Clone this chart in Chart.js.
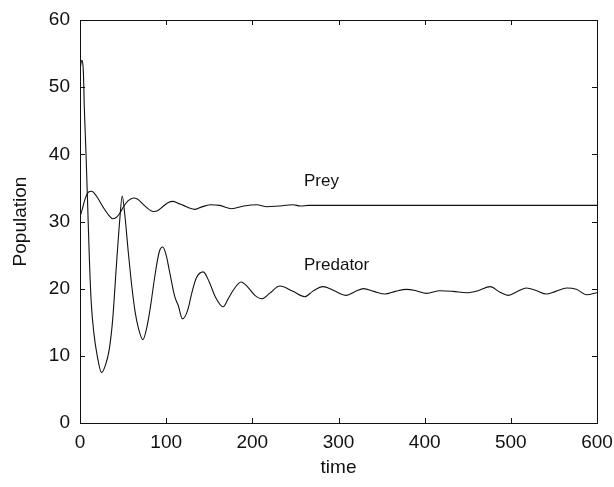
<!DOCTYPE html>
<html>
<head>
<meta charset="utf-8">
<script src="https://cdn.jsdelivr.net/npm/chart.js@4.4.1/dist/chart.umd.min.js"></script>
<style>
  html, body { margin: 0; padding: 0; background: #fff; }
  #wrap { width: 614px; height: 487px; }
</style>
</head>
<body>
<div id="wrap"><canvas id="chart"></canvas></div>
<script>
// Predator-prey simulation, values
const predTime = [0, 2, 4, 5, 7, 9, 11, 13, 16, 20, 25, 30, 34, 38, 42, 46, 49, 52, 56, 60,
    64, 68, 73, 78, 82, 87, 92, 96, 100, 104, 110, 114, 119, 125, 130, 135, 143, 150, 157, 166,
    172, 178, 187, 195, 203, 211, 220, 232, 247, 261, 270, 282, 295, 309, 320, 329, 341, 354, 366, 379,
    390, 402, 418, 433, 449, 462, 476, 487, 497, 508, 518, 530, 541, 552, 565, 576, 588, 600];
const predator = [52.5, 54, 52, 47, 40, 32, 24, 18, 13.5, 10, 7.5, 8.8, 11, 15.5, 23, 30, 33.8, 31, 25.5, 20.5,
    16.5, 14, 12.4, 14.5, 17.5, 22, 25.5, 26.2, 25, 22.5, 18.8, 17.5, 15.5, 16.8, 19.5, 21.6, 22.5, 21, 18.8, 17.3,
    18.5, 19.8, 21, 20.2, 19, 18.5, 19.3, 20.4, 19.6, 18.8, 19.6, 20.3, 19.7, 19, 19.6, 20, 19.6, 19.2, 19.6, 19.9,
    19.7, 19.3, 19.7, 19.6, 19.4, 19.7, 20.3, 19.5, 19.0, 19.6, 20.1, 19.7, 19.2, 19.6, 20.1, 19.9, 19.1, 19.4];

const preyTime = [0, 3, 6, 10, 13, 16, 20, 27, 33, 38, 42, 46, 51, 56, 62, 67, 73, 80, 85, 90,
    96, 102, 108, 114, 120, 127, 133, 140, 151, 162, 176, 190, 205, 217, 230, 247, 256, 265, 280, 600];
const prey = [30.7, 32, 33.4, 34.4, 34.5, 34.3, 33.6, 32.1, 31, 30.4, 30.6, 31.2, 32.3, 33.1, 33.5, 33.3, 32.6, 31.8, 31.5, 31.6,
    32.2, 32.8, 33.0, 32.7, 32.4, 32.0, 31.8, 32.1, 32.5, 32.4, 31.9, 32.3, 32.5, 32.2, 32.3, 32.5, 32.3, 32.4, 32.4, 32.4];

const xTicks = [0, 100, 200, 300, 400, 500, 600];
const yTicks = [0, 10, 20, 30, 40, 50, 60];

// curve labels, in data coordinates
const curveLabels = [
    { text: 'Prey', x: 260, y: 36 },
    { text: 'Predator', x: 260, y: 23.5 },
];

const INK = '#111';
const FONT = "'Liberation Sans', Arial, sans-serif";

Chart.defaults.font.family = FONT;
Chart.defaults.color = INK;

function toPoints(xs, ys) {
    return xs.map((x, i) => ({ x, y: ys[i] }));
}

// frame with inward tick marks on all four sides, plus curve labels
const framePlugin = {
    id: 'frame',
    afterDraw(chart) {
        const { ctx, chartArea: a, scales } = chart;
        const len = 5;
        ctx.save();
        ctx.strokeStyle = INK;
        ctx.lineWidth = 1;
        ctx.strokeRect(Math.round(a.left) + 0.5, Math.round(a.top) + 0.5,
            Math.round(a.right - a.left), Math.round(a.bottom - a.top));
        ctx.beginPath();
        xTicks.forEach(v => {
            const px = Math.round(scales.x.getPixelForValue(v)) + 0.5;
            ctx.moveTo(px, a.bottom); ctx.lineTo(px, a.bottom - len);
            ctx.moveTo(px, a.top); ctx.lineTo(px, a.top + len);
        });
        yTicks.forEach(v => {
            const py = Math.round(scales.y.getPixelForValue(v)) + 0.5;
            ctx.moveTo(a.left, py); ctx.lineTo(a.left + len, py);
            ctx.moveTo(a.right, py); ctx.lineTo(a.right - len, py);
        });
        ctx.stroke();

        ctx.fillStyle = INK;
        ctx.font = '17px ' + FONT;
        ctx.textAlign = 'left';
        ctx.textBaseline = 'middle';
        curveLabels.forEach(l => {
            ctx.fillText(l.text, scales.x.getPixelForValue(l.x), scales.y.getPixelForValue(l.y));
        });
        ctx.restore();
    },
};

const lineStyle = {
    borderColor: INK,
    borderWidth: 1.1,
    pointRadius: 0,
    fill: false,
    cubicInterpolationMode: 'monotone',
};

new Chart(document.getElementById('chart'), {
    type: 'line',
    data: {
        datasets: [
            { label: 'Prey', data: toPoints(preyTime, prey), ...lineStyle },
            { label: 'Predator', data: toPoints(predTime, predator), ...lineStyle },
        ],
    },
    options: {
        responsive: true,
        maintainAspectRatio: false,
        animation: false,
        layout: { padding: { top: 20, right: 17, left: 0, bottom: 0 } },
        plugins: {
            legend: { display: false },
            tooltip: { enabled: false },
        },
        scales: {
            x: {
                type: 'linear',
                min: 0,
                max: 600,
                afterBuildTicks: s => { s.ticks = xTicks.map(v => ({ value: v })); },
                grid: { display: false, drawTicks: false },
                border: { display: false },
                ticks: { padding: 8, font: { size: 19 }, color: INK, maxRotation: 0 },
                title: { display: true, text: 'time', font: { size: 19 }, color: INK, padding: { top: 4, bottom: 8 } },
                afterFit: s => { s.height = 64; s.paddingRight = 0; s.paddingLeft = 0; },
            },
            y: {
                min: 0,
                max: 60,
                afterBuildTicks: s => { s.ticks = yTicks.map(v => ({ value: v })); },
                grid: { display: false, drawTicks: false },
                border: { display: false },
                ticks: { padding: 10, font: { size: 19 }, color: INK },
                title: { display: true, text: 'Population', font: { size: 19 }, color: INK, padding: { top: 9, bottom: 6 } },
                afterFit: s => { s.width = 80; s.paddingTop = 0; s.paddingBottom = 0; },
            },
        },
    },
    plugins: [framePlugin],
});
</script>
</body>
</html>
